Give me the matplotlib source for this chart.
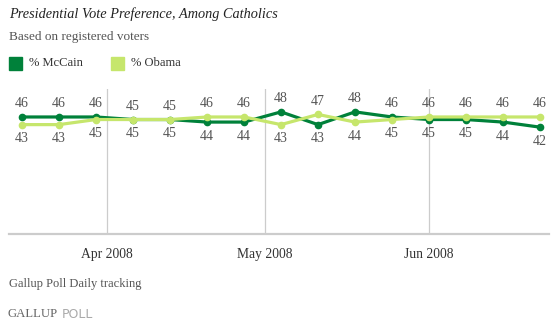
import matplotlib
matplotlib.use('Agg')
import matplotlib.pyplot as plt
import matplotlib.dates as mdates
from matplotlib.patches import Rectangle
import datetime as dt

# weekly readings, Catholic registered voters
weeks = ['2008-03-16', '2008-03-23', '2008-03-30', '2008-04-06', '2008-04-13',
         '2008-04-20', '2008-04-27', '2008-05-04', '2008-05-11', '2008-05-18',
         '2008-05-25', '2008-06-01', '2008-06-08', '2008-06-15', '2008-06-22']
mccain = [46, 46, 46, 45, 45, 44, 44, 48, 43, 48, 46, 45, 45, 44, 42]
obama = [43, 43, 45, 45, 45, 46, 46, 43, 47, 44, 45, 46, 46, 46, 46]
month_ticks = ['2008-04-01', '2008-05-01', '2008-06-01']
month_labels = ['Apr 2008', 'May 2008', 'Jun 2008']

dark = '#00813a'
light = '#c6e66c'
grey_text = '#555555'
serif = ['Liberation Serif', 'DejaVu Serif']

W, H = 560, 329


def fy(y):
    return 1 - y / H


dates = [mdates.date2num(dt.datetime.strptime(d, '%Y-%m-%d')) for d in weeks]
ticks = [mdates.date2num(dt.datetime.strptime(d, '%Y-%m-%d')) for d in month_ticks]

fig = plt.figure(figsize=(W / 100, H / 100), dpi=100)
ax = fig.add_axes([9 / W, 95 / H, 540 / W, 145 / H])
ax.set_xlim(dates[0] - 2.46, dates[-1] + 1.7)
ax.set_ylim(0, 57)

for t in ticks:
    ax.axvline(t, color='#cccccc', lw=0.9, zorder=0)

ax.plot(dates, mccain, '-o', color=dark, lw=2.3, ms=4.5, zorder=3)
ax.plot(dates, obama, '-o', color=light, lw=2.3, ms=4.5, zorder=4)

for i, d in enumerate(dates):
    up = mccain[i] >= obama[i]
    ax.annotate(str(mccain[i]), (d, mccain[i]), textcoords='offset pixels',
                xytext=(0, 13 if up else -14), ha='center', va='center',
                fontsize=10, color=grey_text, family=serif)
    up = obama[i] > mccain[i]
    ax.annotate(str(obama[i]), (d, obama[i]), textcoords='offset pixels',
                xytext=(0, 13 if up else -14), ha='center', va='center',
                fontsize=10, color=grey_text, family=serif)

for s in ['top', 'left', 'right']:
    ax.spines[s].set_visible(False)
ax.spines['bottom'].set_color('#cccccc')
ax.spines['bottom'].set_linewidth(1.6)
ax.set_yticks([])
ax.set_xticks(ticks)
ax.set_xticklabels(month_labels, family=serif, fontsize=9.8, color='#333333')
ax.tick_params(axis='x', length=0, pad=10)

fig.text(9 / W, fy(14), 'Presidential Vote Preference, Among Catholics',
         family=serif, style='italic', fontsize=10.3, color='#222222', va='center')
fig.text(9 / W, fy(37), 'Based on registered voters',
         family=serif, fontsize=9.5, color=grey_text, va='center')

fig.patches.append(Rectangle((9 / W, fy(70)), 13 / W, 13 / H, color=dark,
                             transform=fig.transFigure, figure=fig))
fig.text(29 / W, fy(63), '% McCain', family=serif, fontsize=9, color='#333333', va='center')
fig.patches.append(Rectangle((111 / W, fy(70)), 13 / W, 13 / H, color=light,
                             transform=fig.transFigure, figure=fig))
fig.text(131 / W, fy(63), '% Obama', family=serif, fontsize=9, color='#333333', va='center')

fig.text(9 / W, fy(284), 'Gallup Poll Daily tracking',
         family=serif, fontsize=9, color=grey_text, va='center')
fig.text(7 / W, fy(314), 'GALLUP', family=serif, fontsize=9.2, color='#666666', va='center')
fig.text(62 / W, fy(314), 'POLL', family='DejaVu Sans', fontsize=9, color='#aaaaaa', va='center')

fig.savefig('out.png', dpi=100)
